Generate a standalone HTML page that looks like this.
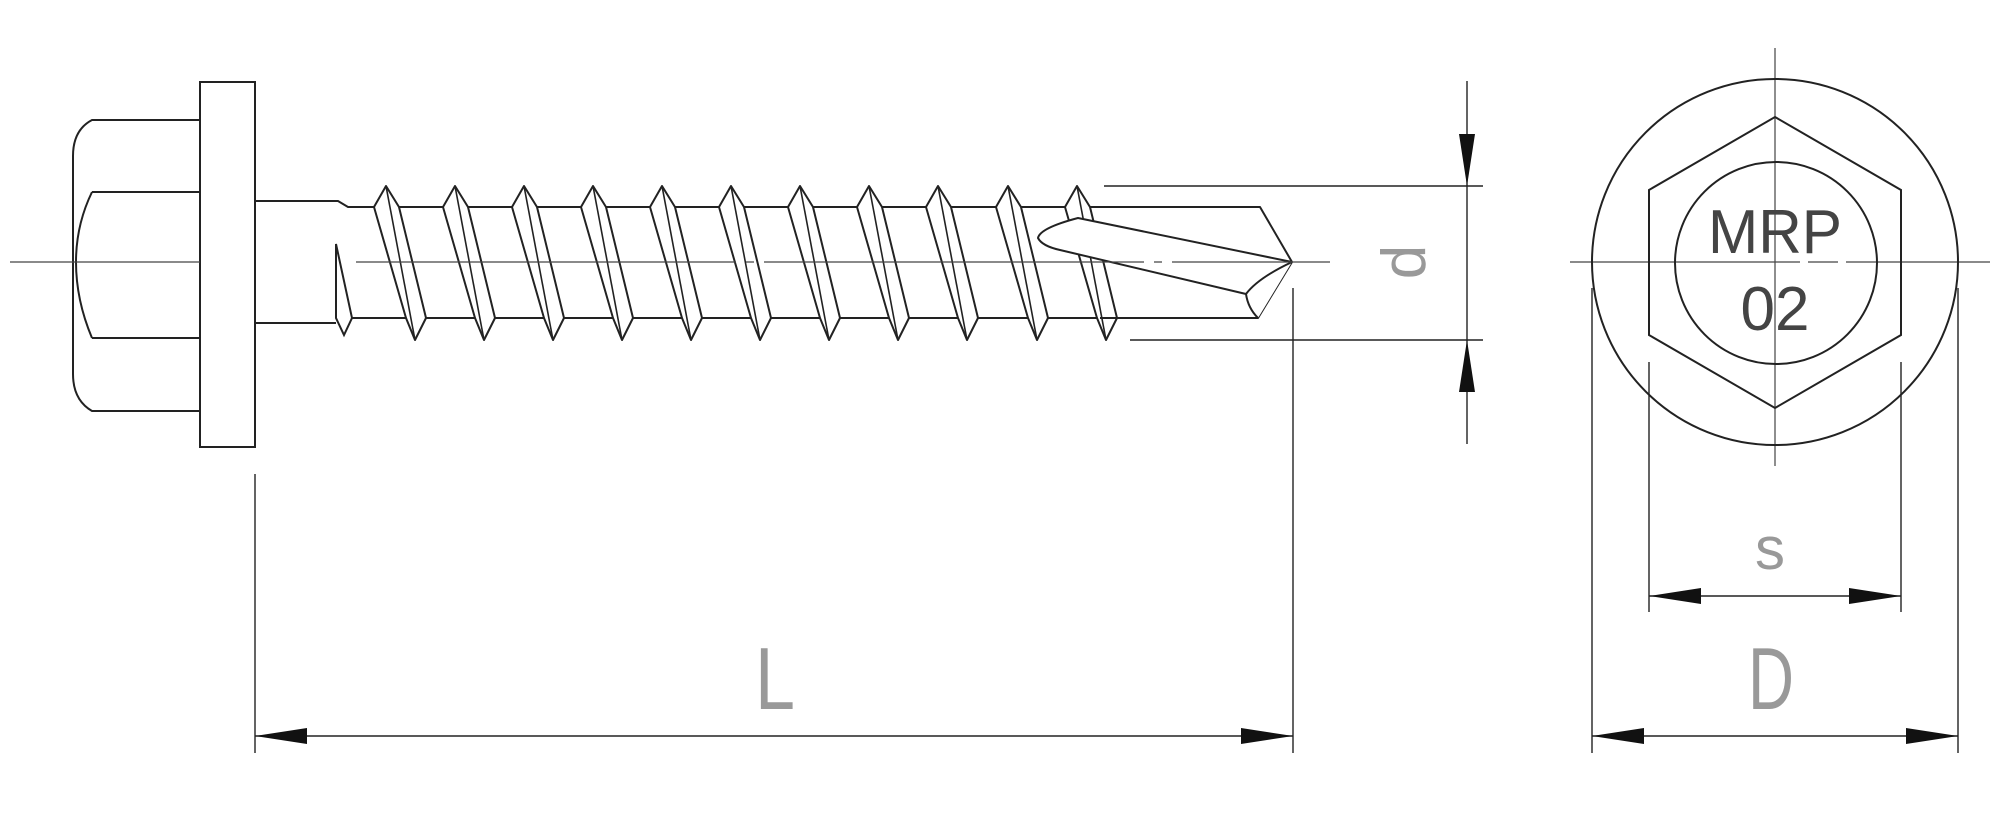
<!DOCTYPE html>
<html><head><meta charset="utf-8"><style>
html,body{margin:0;padding:0;background:#fff;}
svg{display:block;}
text{font-family:"Liberation Sans",sans-serif;}
</style></head><body>
<svg width="2000" height="815" viewBox="0 0 2000 815" xmlns="http://www.w3.org/2000/svg">
<defs>
<g id="th">
<polygon points="0,186 13,207 40,318 29,340 20,318 -12,207" fill="#fff" stroke="#222" stroke-width="2" stroke-linejoin="round"/>
<line x1="0" y1="186" x2="29" y2="340" stroke="#222" stroke-width="1.6"/>
</g>
</defs>
<g fill="none" stroke="#222" stroke-width="2">
<!-- head -->
<path d="M200,120 H92 Q73,130 73,156 V374 Q73,400 92,411 H200"/>
<line x1="92" y1="192" x2="200" y2="192"/>
<line x1="92" y1="338" x2="200" y2="338"/>
<path d="M92,192 Q76,225 76,262 Q76,300 92,338"/>
<rect x="200" y="82" width="55" height="365"/>
<!-- shank -->
<path d="M255,201 H338 L348,207 H1090"/>
<path d="M255,323 H336"/>
<line x1="336" y1="318" x2="1258" y2="318"/>
<polygon points="336,244 336,318 344,335 352,318" fill="#fff"/>
</g>
<g>
<use href="#th" x="386"/><use href="#th" x="455"/><use href="#th" x="524"/><use href="#th" x="593"/>
<use href="#th" x="662"/><use href="#th" x="731"/><use href="#th" x="800"/><use href="#th" x="869"/>
<use href="#th" x="938"/><use href="#th" x="1008"/><use href="#th" x="1077"/>
</g>
<g fill="none" stroke="#222" stroke-width="2" stroke-linejoin="round">
<path d="M1090,207 H1260 L1292,262 L1258,318 H1100" />
<path d="M1292,262 L1078,218 Q1040,228 1038,238 Q1042,246 1060,250 L1246,294 Q1248,308 1258,318" fill="#fff"/>
<path d="M1292,262 Q1258,278 1246,294"/>
</g>
<!-- center lines -->
<g stroke="#444" stroke-width="1.2" fill="none">
<line x1="10" y1="262" x2="200" y2="262"/>
<line x1="356" y1="262" x2="1330" y2="262" stroke-dasharray="380,10,8,10"/>
<line x1="1570" y1="262" x2="1990" y2="262" stroke-dasharray="230,8,30,8"/>
<line x1="1775" y1="48" x2="1775" y2="466"/>
</g>
<!-- dims -->
<g stroke="#222" stroke-width="1.4" fill="none">
<line x1="1104" y1="186" x2="1483" y2="186"/>
<line x1="1130" y1="340" x2="1483" y2="340"/>
<line x1="1467" y1="81" x2="1467" y2="444"/>
<line x1="255" y1="474" x2="255" y2="753"/>
<line x1="1293" y1="288" x2="1293" y2="753"/>
<line x1="255" y1="736" x2="1293" y2="736"/>
<line x1="1649" y1="362" x2="1649" y2="612"/>
<line x1="1901" y1="362" x2="1901" y2="612"/>
<line x1="1649" y1="596" x2="1901" y2="596"/>
<line x1="1592" y1="288" x2="1592" y2="753"/>
<line x1="1958" y1="288" x2="1958" y2="753"/>
<line x1="1592" y1="736" x2="1958" y2="736"/>
</g>
<g fill="#111">
<polygon points="1467,186 1459,134 1475,134"/>
<polygon points="1467,340 1459,392 1475,392"/>
<polygon points="255,736 307,728 307,744"/>
<polygon points="1293,736 1241,728 1241,744"/>
<polygon points="1649,596 1701,588 1701,604"/>
<polygon points="1901,596 1849,588 1849,604"/>
<polygon points="1592,736 1644,728 1644,744"/>
<polygon points="1958,736 1906,728 1906,744"/>
</g>
<!-- right view -->
<g fill="none" stroke="#222" stroke-width="2">
<circle cx="1775" cy="262" r="183"/>
<polygon points="1775,117 1901,190 1901,335 1775,408 1649,335 1649,190"/>
<circle cx="1776" cy="263" r="101"/>
</g>
<g fill="#444" font-size="62" text-anchor="middle">
<text x="1775" y="253" textLength="134" lengthAdjust="spacingAndGlyphs">MRP</text>
<text x="1775" y="330">02</text>
</g>
<!-- labels -->
<g fill="#999" text-anchor="middle">
<text x="775" y="709" font-size="88" textLength="40" lengthAdjust="spacingAndGlyphs">L</text>
<text x="1771" y="709" font-size="88" textLength="46" lengthAdjust="spacingAndGlyphs">D</text>
<text x="1770" y="569" font-size="60">s</text>
<text x="0" y="0" font-size="62" transform="translate(1425,262) rotate(-90)">d</text>
</g>
</svg>
</body></html>
